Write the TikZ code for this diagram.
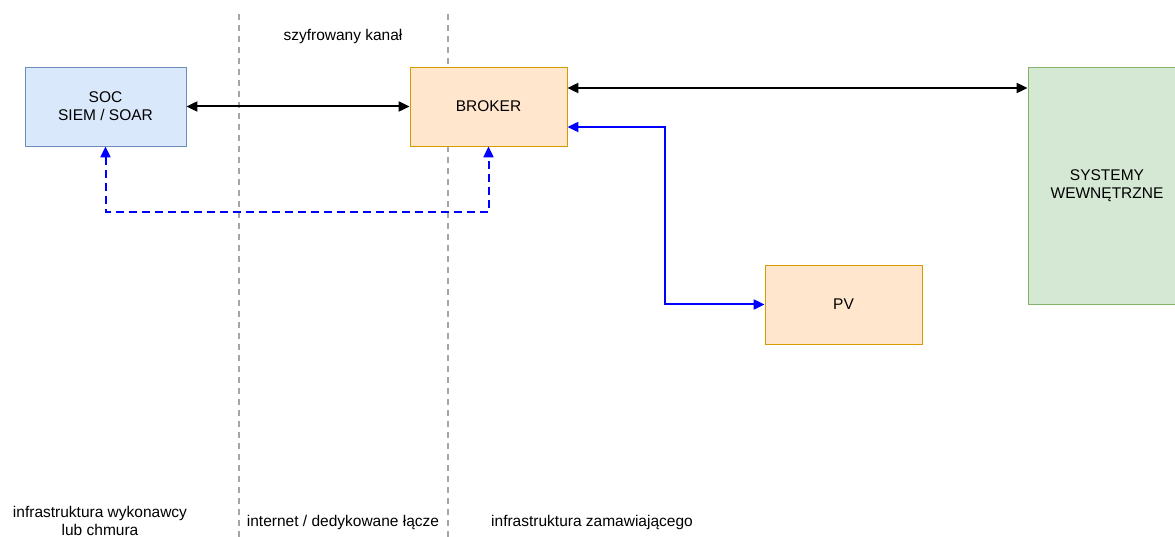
\documentclass[tikz,border=0pt]{standalone}
\usepackage{fontspec}
\setmainfont{Liberation Sans}
\usetikzlibrary{arrows.meta,positioning,calc}
\definecolor{socfill}{HTML}{DAE8FC}
\definecolor{socline}{HTML}{6C8EBF}
\definecolor{brkfill}{HTML}{FFE6CC}
\definecolor{brkline}{HTML}{D79B00}
\definecolor{sysfill}{HTML}{D5E8D4}
\definecolor{sysline}{HTML}{82B366}
\definecolor{zoneline}{HTML}{A6A6A6}
\definecolor{pvblue}{HTML}{0000FF}

\tikzset{
  box/.style={rectangle, draw, line width=0.8pt, minimum width=157pt, minimum height=79pt,
    inner sep=0pt, align=center, font=\fontsize{15.5}{18}\selectfont},
  biarrow/.style={{Triangle[length=11pt,width=10pt]}-{Triangle[length=11pt,width=10pt]}, line width=2pt},
  zone/.style={zoneline, line width=1.5pt, dash pattern=on 6pt off 5pt},
  zonetext/.style={align=center, font=\fontsize{15.5}{18}\selectfont, inner sep=0pt}
}

\begin{document}
\begin{tikzpicture}[x=1pt, y=-1pt]
  \useasboundingbox (0,0) rectangle (1175,537);
  % granice stref
  \coordinate (za) at (239,14);
  \coordinate (zb) at (448,14);
  \draw[zone] (za) -- (za |- 0,540);
  \draw[zone] (zb) -- (zb |- 0,540);
  \node[zonetext] (kanal) at (343,36) {szyfrowany kanał};

  % bloki
  \node[box, fill=socfill, draw=socline, minimum width=161pt] (soc) at (105.5,106.5) {SOC\\SIEM / SOAR};
  \node[box, fill=brkfill, draw=brkline] (broker) at (488.5,106.5) {BROKER};
  \node[box, fill=brkfill, draw=brkline] (pv) at (843.5,304.5) {PV};
  \node[box, fill=sysfill, draw=sysline, minimum width=158pt, minimum height=237pt] (sys) at (1107,185.5) {SYSTEMY\\WEWNĘTRZNE};

  % polaczenia
  \draw[biarrow] (soc) -- (broker);
  \draw[biarrow] ([yshift=18.5pt]broker.east) -- ([yshift=18.5pt]broker.east -| sys.west);
  \draw[biarrow, pvblue] ([yshift=-20.5pt]broker.east) -- ++(98,0) |- (pv.west);
  \draw[biarrow, pvblue, dash pattern=on 8pt off 5pt] (soc.south) -- ++(0,65.5) -| (broker.south);

  % opisy stref
  \node[zonetext] (wyk) at (100,521) {infrastruktura wykonawcy\\lub chmura};
  \node[zonetext] (lacze) at (343,522) {internet / dedykowane łącze};
  \node[zonetext] (zam) at (592,522) {infrastruktura zamawiającego};
\end{tikzpicture}
\end{document}
